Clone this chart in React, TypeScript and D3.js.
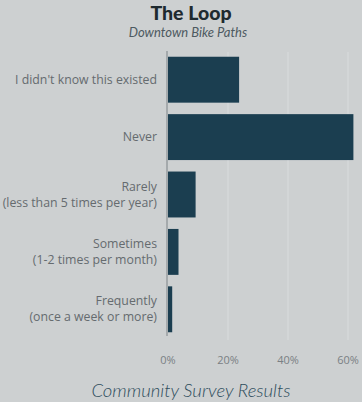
import React from "react";
import * as d3 from "d3";

const categories: string[][] = [
  ["I didn't know this existed"],
  ["Never"],
  ["Rarely", "(less than 5 times per year)"],
  ["Sometimes", "(1-2 times per month)"],
  ["Frequently", "(once a week or more)"],
];
const values: number[] = [23.7, 61.8, 9.2, 3.5, 1.4];
const tickValues: number[] = [0, 20, 40, 60];
const title = "The Loop";
const subtitle = "Downtown Bike Paths";
const footer = "Community Survey Results";

const W = 362;
const H = 402;

export default function App() {
  const x = d3.scaleLinear().domain([0, 60]).range([168, 348]);
  const y = d3
    .scaleBand<number>()
    .domain(categories.map((_, i) => i))
    .range([51, 338])
    .paddingInner(0.2)
    .paddingOuter(0.1);
  const bg = "#cdd0d1";
  return (
    <div style={{ position: "fixed", left: 0, top: 0, width: W, height: H, background: bg }}>
      <svg width={W} height={H} style={{ display: "block" }}>
        <rect x={0} y={0} width={W} height={H} fill={bg} />
        <text x={191} y={20} textAnchor="middle" fontFamily="Lato, 'Open Sans', sans-serif" fontWeight={900} fontSize={19.5} fill="#1e2a2f">
          {title}
        </text>
        <text x={188} y={37} textAnchor="middle" fontFamily="Lato, sans-serif" fontStyle="italic" fontSize={13} fill="#4d5a61">
          {subtitle}
        </text>
        {tickValues.slice(1).map((t) => (
          <line key={"g" + t} x1={x(t)} x2={x(t)} y1={52} y2={340} stroke="#d5d8d9" strokeWidth={1.5} />
        ))}
        {values.map((v, i) => (
          <rect key={"b" + i} x={x(0)} y={y(i)!} width={x(v) - x(0)} height={y.bandwidth()} fill="#1b3e50" />
        ))}
        <line x1={x(0) - 1} x2={x(0) - 1} y1={51} y2={336} stroke="#7d8387" strokeWidth={1} />
        {categories.map((lines, i) => {
          const cy = y(i)! + y.bandwidth() / 2;
          const lh = 16;
          const start = cy - ((lines.length - 1) * lh) / 2;
          return (
            <text key={"l" + i} textAnchor="end" fontFamily="'Open Sans', sans-serif" fontSize={12.3} fill="#656b6f">
              {lines.map((ln, j) => (
                <tspan key={j} x={157} y={start + j * lh + 4}>
                  {ln}
                </tspan>
              ))}
            </text>
          );
        })}
        {tickValues.map((t) => (
          <text key={"t" + t} x={x(t)} y={364} textAnchor="middle" fontFamily="'Open Sans', sans-serif" fontSize={11} fill="#7a8084">
            {t + "%"}
          </text>
        ))}
        <text x={191} y={397} textAnchor="middle" fontFamily="Lato, sans-serif" fontStyle="italic" fontWeight={300} fontSize={18.5} fill="#2e4d5c">
          {footer}
        </text>
      </svg>
    </div>
  );
}
